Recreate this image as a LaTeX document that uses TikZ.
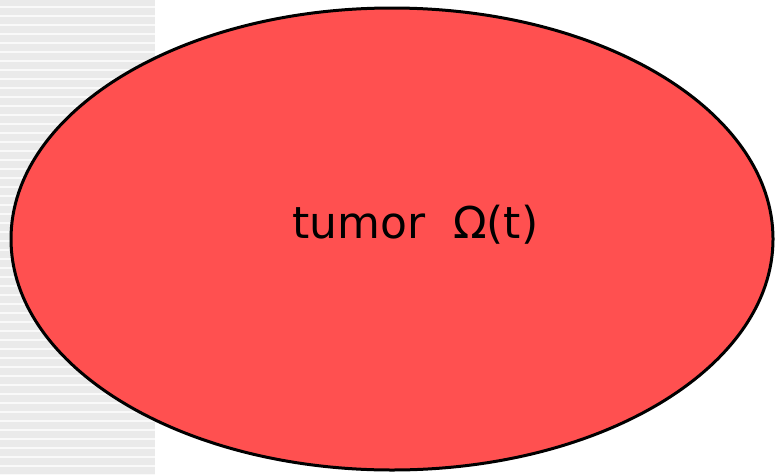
\documentclass[tikz,border=0pt]{standalone}
\usepackage{fontspec}
\setmainfont{DejaVu Sans}
\tikzset{
  tumorshape/.style={ellipse, draw=black, line width=3pt, fill=tumorred, minimum width=762pt, minimum height=462pt, inner sep=0pt},
  tumorlabel/.style={font=\fontsize{44}{52}\selectfont, text=black, inner sep=0pt, anchor=base west}
}
\definecolor{tumorred}{RGB}{255,80,80}
\definecolor{stripegray}{RGB}{234,234,234}
\usetikzlibrary{shapes.geometric}
\begin{document}
\begin{tikzpicture}[x=1pt,y=-1pt]
\useasboundingbox (0,0) rectangle (775,474);
\fill[white] (0,0) rectangle (775,474);
\fill[stripegray] (0,0) rectangle (155,474);
\foreach \k in {0,...,52} {
  \fill[white!70!stripegray] (0,{6+9*\k}) rectangle (155,{7.8+9*\k});
}
\node[tumorshape] (tumor) at (392,239) {};
\node[tumorlabel] (label) at (292,238) {tumor\hspace{28pt}Ω(t)};
\end{tikzpicture}
\end{document}
